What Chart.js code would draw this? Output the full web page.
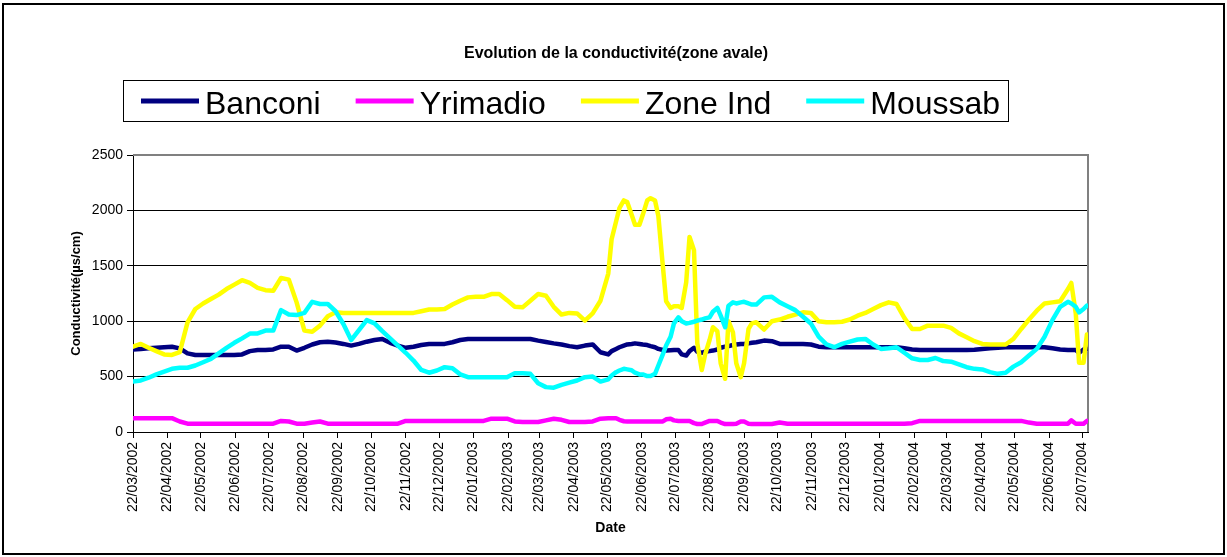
<!DOCTYPE html>
<html>
<head>
<meta charset="utf-8">
<script src="https://cdn.jsdelivr.net/npm/chart.js@4.4.0/dist/chart.umd.min.js"></script>
<style>
  html, body { margin: 0; padding: 0; background: #fff; }
  #wrap { width: 1227px; height: 557px; }
</style>
</head>
<body>
<div id="wrap"><canvas id="chart" width="1227" height="557"></canvas></div>
<script>
// sampling dates (dd/mm/yyyy), shared by the four stations
var dates = [
  '22/03/2002','29/03/2002','05/04/2002','12/04/2002','19/04/2002','26/04/2002','03/05/2002','10/05/2002','17/05/2002','24/05/2002',
  '31/05/2002','07/06/2002','14/06/2002','21/06/2002','28/06/2002','05/07/2002','12/07/2002','19/07/2002','26/07/2002','02/08/2002',
  '09/08/2002','16/08/2002','23/08/2002','30/08/2002','06/09/2002','13/09/2002','20/09/2002','27/09/2002','04/10/2002','11/10/2002',
  '18/10/2002','25/10/2002','01/11/2002','08/11/2002','15/11/2002','22/11/2002','29/11/2002','06/12/2002','13/12/2002','20/12/2002',
  '27/12/2002','03/01/2003','10/01/2003','17/01/2003','24/01/2003','31/01/2003','07/02/2003','14/02/2003','21/02/2003','28/02/2003',
  '07/03/2003','14/03/2003','21/03/2003','28/03/2003','04/04/2003','11/04/2003','18/04/2003','25/04/2003','02/05/2003','09/05/2003',
  '16/05/2003','23/05/2003','26/05/2003','30/05/2003','02/06/2003','06/06/2003','09/06/2003','13/06/2003','16/06/2003','20/06/2003',
  '23/06/2003','27/06/2003','30/06/2003','04/07/2003','07/07/2003','11/07/2003','14/07/2003','18/07/2003','21/07/2003','25/07/2003',
  '28/07/2003','01/08/2003','04/08/2003','08/08/2003','11/08/2003','15/08/2003','18/08/2003','22/08/2003','25/08/2003','29/08/2003',
  '01/09/2003','05/09/2003','08/09/2003','12/09/2003','15/09/2003','19/09/2003','22/09/2003','26/09/2003','29/09/2003','03/10/2003',
  '10/10/2003','17/10/2003','24/10/2003','31/10/2003','07/11/2003','14/11/2003','21/11/2003','28/11/2003','05/12/2003','12/12/2003',
  '19/12/2003','26/12/2003','02/01/2004','09/01/2004','16/01/2004','23/01/2004','30/01/2004','06/02/2004','13/02/2004','20/02/2004',
  '27/02/2004','05/03/2004','12/03/2004','19/03/2004','26/03/2004','02/04/2004','09/04/2004','16/04/2004','23/04/2004','30/04/2004',
  '07/05/2004','14/05/2004','21/05/2004','28/05/2004','04/06/2004','11/06/2004','18/06/2004','25/06/2004','02/07/2004','09/07/2004',
  '12/07/2004','16/07/2004','19/07/2004','23/07/2004','26/07/2004'
];

var banconi = [
  745, 750, 755, 760, 765, 770, 755, 710, 695, 695,
  695, 695, 695, 695, 700, 730, 740, 740, 745, 770,
  770, 735, 760, 790, 810, 815, 808, 795, 780, 795,
  815, 830, 840, 805, 780, 760, 770, 785, 795, 795,
  795, 810, 830, 840, 840, 840, 840, 840, 840, 840,
  840, 840, 825, 812, 800, 790, 775, 765, 780, 790,
  720, 700, 730, 750, 765, 780, 790, 795, 800, 795,
  790, 785, 775, 765, 750, 740, 735, 738, 740, 740,
  700, 690, 730, 760, 725, 715, 725, 730, 735, 745,
  760, 770, 775, 785, 790, 795, 795, 800, 805, 810,
  825, 820, 795, 795, 795, 795, 790, 770, 765, 765,
  765, 765, 765, 765, 765, 765, 765, 765, 755, 745,
  740, 740, 740, 740, 740, 740, 740, 742, 750, 755,
  760, 765, 765, 765, 765, 765, 765, 755, 745, 740,
  740, 740, 715, 745, 750
];

var yrimadio = [
  125, 125, 125, 125, 125, 125, 95, 75, 75, 75,
  75, 75, 75, 75, 75, 75, 75, 75, 75, 100,
  95, 75, 75, 85, 95, 75, 75, 75, 75, 75,
  75, 75, 75, 75, 75, 100, 100, 100, 100, 100,
  100, 100, 100, 100, 100, 100, 120, 120, 120, 95,
  90, 90, 90, 105, 120, 110, 90, 90, 90, 95,
  120, 125, 125, 125, 110, 97, 95, 95, 95, 95,
  95, 95, 95, 95, 95, 95, 115, 120, 105, 100,
  100, 100, 100, 80, 72, 72, 85, 100, 100, 100,
  85, 72, 72, 72, 75, 95, 95, 75, 72, 72,
  72, 72, 85, 75, 75, 75, 75, 75, 75, 75,
  75, 75, 75, 75, 75, 75, 75, 75, 75, 80,
  100, 100, 100, 100, 100, 100, 100, 100, 100, 100,
  100, 100, 100, 100, 85, 75, 75, 75, 75, 75,
  105, 75, 75, 75, 100
];

var zoneInd = [
  770, 795, 760, 730, 700, 695, 720, 990, 1110, 1160,
  1200, 1240, 1290, 1330, 1370, 1345, 1300, 1280, 1275, 1390,
  1375, 1170, 915, 905, 960, 1045, 1080, 1075, 1075, 1075,
  1075, 1075, 1075, 1075, 1075, 1075, 1075, 1090, 1105, 1105,
  1110, 1150, 1185, 1215, 1220, 1220, 1245, 1245, 1190, 1130,
  1125, 1185, 1245, 1230, 1130, 1060, 1075, 1070, 1005, 1070,
  1185, 1430, 1740, 1900, 2020, 2090, 2075, 1960, 1870, 1870,
  1960, 2090, 2110, 2090, 1950, 1500, 1180, 1120, 1135, 1135,
  1120, 1350, 1760, 1640, 800, 560, 700, 830, 945, 910,
  620, 480, 1000, 900, 620, 495, 620, 930, 980, 990,
  925, 1000, 1015, 1040, 1060, 1080, 1075, 1000, 990, 990,
  995, 1015, 1050, 1075, 1110, 1145, 1170, 1155, 1030, 930,
  930, 960, 960, 960, 940, 890, 855, 820, 795, 790,
  790, 790, 840, 930, 1015, 1095, 1160, 1170, 1180, 1290,
  1345, 1070, 625, 625, 880
];

var moussab = [
  455, 465, 490, 520, 545, 570, 580, 580, 600, 630,
  660, 710, 760, 805, 845, 888, 890, 915, 915, 1100,
  1060, 1055, 1075, 1175, 1155, 1155, 1090, 975, 830, 920,
  1010, 980, 910, 845, 780, 715, 645, 560, 535, 555,
  585, 575, 520, 495, 495, 495, 495, 495, 495, 530,
  530, 525, 440, 405, 400, 425, 445, 465, 495, 500,
  455, 475, 510, 540, 555, 570, 565, 557, 535, 520,
  520, 505, 505, 525, 600, 700, 780, 860, 980, 1035,
  1000, 980, 985, 995, 1005, 1015, 1025, 1035, 1085, 1120,
  1050, 945, 1140, 1170, 1160, 1170, 1175, 1160, 1150, 1150,
  1215, 1220, 1170, 1135, 1100, 1040, 980, 860, 790, 765,
  795, 815, 835, 840, 790, 750, 755, 765, 715, 665,
  650, 650, 668, 640, 635, 610, 585, 570, 565, 540,
  525, 535, 590, 630, 690, 750, 860, 1010, 1130, 1175,
  1160, 1130, 1080, 1110, 1140
];

var tickDates = [
  '22/03/2002','22/04/2002','22/05/2002','22/06/2002','22/07/2002','22/08/2002','22/09/2002',
  '22/10/2002','22/11/2002','22/12/2002','22/01/2003','22/02/2003','22/03/2003','22/04/2003',
  '22/05/2003','22/06/2003','22/07/2003','22/08/2003','22/09/2003','22/10/2003','22/11/2003',
  '22/12/2003','22/01/2004','22/02/2004','22/03/2004','22/04/2004','22/05/2004','22/06/2004',
  '22/07/2004'
];

var chartTitle = 'Evolution de la conductivité(zone avale)';

var origin = Date.UTC(2002, 2, 22);
function dayOf(s) {
  var p = s.split('/');
  return Math.round((Date.UTC(+p[2], +p[1] - 1, +p[0]) - origin) / 86400000);
}
var tickLabel = {};
tickDates.forEach(function (d) { tickLabel[dayOf(d)] = d; });

function pts(values) {
  return dates.map(function (d, i) { return { x: dayOf(d), y: values[i] }; });
}

Chart.defaults.font.family = '"Liberation Sans", Arial, sans-serif';
Chart.defaults.color = '#000';

// title, framed legend and outer frame, like the spreadsheet chart
var boxLegend = {
  id: 'boxLegend',
  afterDraw: function (chart) {
    var ctx = chart.ctx;
    ctx.save();
    ctx.fillStyle = '#000';
    ctx.font = 'bold 16px "Liberation Sans", Arial, sans-serif';
    ctx.textAlign = 'center';
    ctx.textBaseline = 'middle';
    ctx.fillText(chartTitle, 616, 54);

    ctx.textAlign = 'left';
    ctx.textBaseline = 'alphabetic';
    ctx.font = '32px "Liberation Sans", Arial, sans-serif';
    ctx.strokeStyle = '#000';
    ctx.lineWidth = 1;
    ctx.strokeRect(123.5, 80.5, 885, 41);
    var x = 141;
    chart.data.datasets.forEach(function (ds) {
      ctx.fillStyle = ds.borderColor;
      ctx.fillRect(x, 98.5, 58, 5);
      ctx.fillStyle = '#000';
      ctx.fillText(ds.label, x + 64, 114);
      x += 64 + ctx.measureText(ds.label).width + 35;
    });
    ctx.lineWidth = 2;
    ctx.strokeRect(3, 4, 1221, 550);
    ctx.restore();
  }
};

// grey top/right edges of the plot area
var plotFrame = {
  id: 'plotFrame',
  beforeDatasetsDraw: function (chart) {
    var a = chart.chartArea, ctx = chart.ctx;
    ctx.save();
    ctx.strokeStyle = '#808080';
    ctx.lineWidth = 2;
    ctx.beginPath();
    ctx.moveTo(a.left, a.top);
    ctx.lineTo(a.right, a.top);
    ctx.lineTo(a.right, a.bottom);
    ctx.stroke();
    ctx.restore();
  }
};

function line(label, values, color, order) {
  return {
    label: label,
    data: pts(values),
    borderColor: color,
    backgroundColor: color,
    borderWidth: 4.5,
    pointRadius: 0,
    tension: 0,
    borderJoinStyle: 'round',
    borderCapStyle: 'round',
    order: order
  };
}

new Chart(document.getElementById('chart'), {
  type: 'line',
  data: {
    datasets: [
      line('Banconi', banconi, '#000080', 3),
      line('Yrimadio', yrimadio, '#ff00ff', 2),
      line('Zone Ind', zoneInd, '#ffff00', 1),
      line('Moussab', moussab, '#00ffff', 0)
    ]
  },
  options: {
    responsive: false,
    animation: false,
    layout: { padding: { left: 0, right: 139, top: 155, bottom: 0 } },
    plugins: {
      legend: { display: false },
      tooltip: { enabled: false },
      title: { display: false }
    },
    scales: {
      x: {
        type: 'linear',
        min: 0,
        max: 858,
        afterBuildTicks: function (axis) {
          axis.ticks = tickDates.map(function (d) { return { value: dayOf(d) }; });
        },
        afterFit: function (s) { s.height = 125; },
        ticks: {
          autoSkip: false,
          minRotation: 90,
          maxRotation: 90,
          padding: 4,
          font: { size: 14 },
          color: '#000',
          callback: function (v) { return tickLabel[v] || ''; }
        },
        grid: { drawOnChartArea: false, tickLength: 6, tickColor: '#000', color: '#000' },
        border: { color: '#000', width: 1 },
        title: {
          display: true,
          text: 'Date',
          font: { size: 14, weight: 'bold' },
          color: '#000',
          padding: { top: 0, bottom: 20 }
        }
      },
      y: {
        min: 0,
        max: 2500,
        afterFit: function (s) { s.width = 133; },
        ticks: {
          stepSize: 500,
          padding: 4,
          font: { size: 14 },
          color: '#000',
          callback: function (v) { return String(v); }
        },
        grid: { color: '#000', lineWidth: 1, tickLength: 6, tickColor: '#000' },
        border: { color: '#000', width: 1 },
        title: {
          display: true,
          text: 'Conductivité(µs/cm)',
          font: { size: 13, weight: 'bold' },
          color: '#000',
          padding: { top: 69, bottom: 0 }
        }
      }
    }
  },
  plugins: [boxLegend, plotFrame]
});
</script>
</body>
</html>
